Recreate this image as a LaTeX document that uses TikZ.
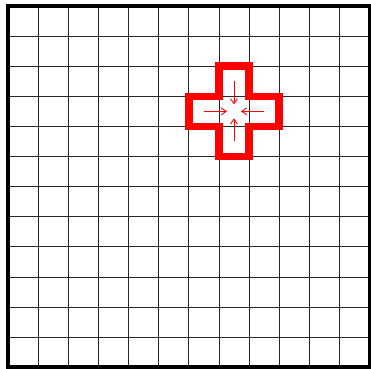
\documentclass[tikz,border=0pt]{standalone}
\usetikzlibrary{arrows.meta}
\tikzset{
  gridline/.style={draw=black!85, line width=0.8pt},
  frameline/.style={draw=black, line width=3.5pt},
  crossline/.style={draw=red, line width=7.5pt, line join=miter},
  flow/.style={draw=red, line width=0.9pt, -{Straight Barb[length=5pt,width=7pt]}, shorten >=7pt},
}
\begin{document}
\begin{tikzpicture}
\useasboundingbox (0,0) rectangle (371pt,-368pt);
\begin{scope}[shift={(8.2pt,-6pt)}, x=30.1pt, y=-30.1pt]
  \foreach \i in {1,...,11} {
    \draw[gridline] (\i,0) -- (\i,12);
    \draw[gridline] (0,\i) -- (12,\i);
  }
  \draw[frameline] (0,0) rectangle (12,12);
  \draw[crossline] (7,2) -- (8,2) -- (8,3) -- (9,3) -- (9,4) -- (8,4) -- (8,5)
    -- (7,5) -- (7,4) -- (6,4) -- (6,3) -- (7,3) -- cycle;
  \coordinate (c) at (7.5,3.5);
  \coordinate (n) at (7.5,2.5);
  \coordinate (s) at (7.5,4.5);
  \coordinate (w) at (6.5,3.5);
  \coordinate (e) at (8.5,3.5);
  \draw[flow] (n) -- (c);
  \draw[flow] (s) -- (c);
  \draw[flow] (w) -- (c);
  \draw[flow] (e) -- (c);
\end{scope}
\end{tikzpicture}
\end{document}
